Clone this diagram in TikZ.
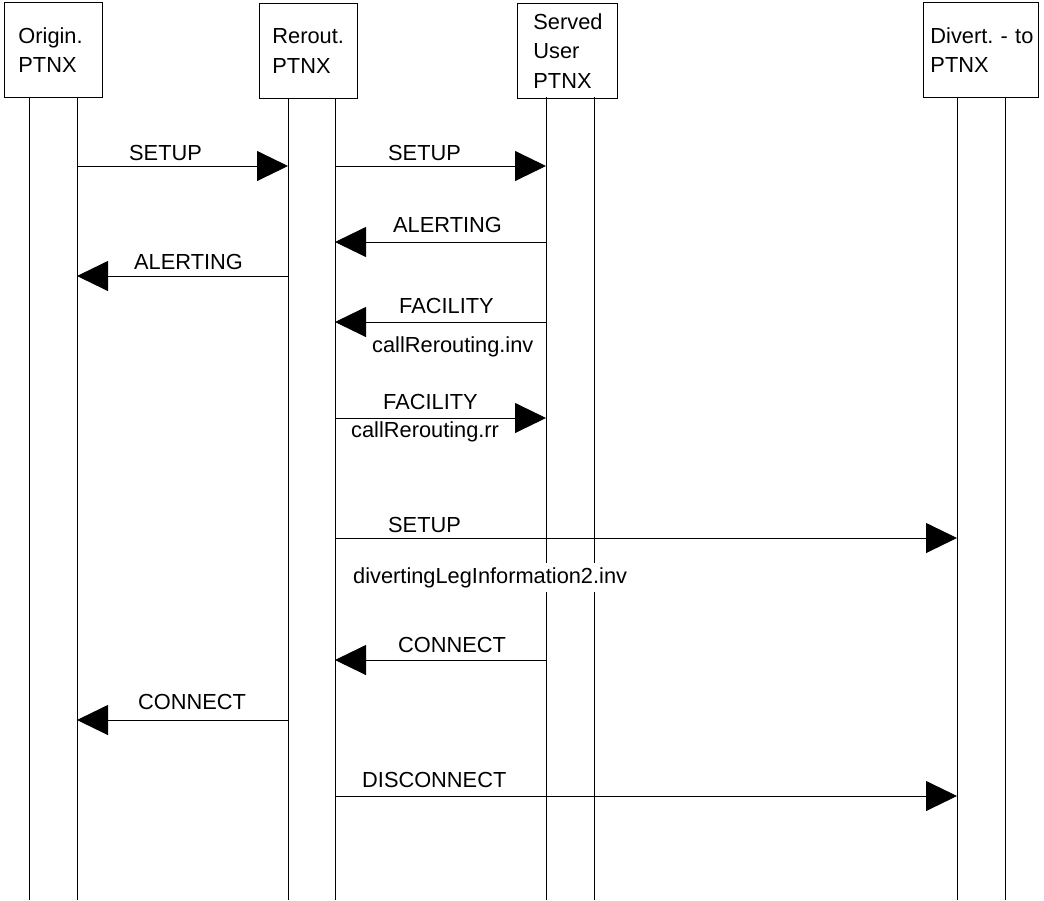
\documentclass[tikz,border=0pt]{standalone}
\usepackage{fontspec}
\setmainfont{Liberation Sans}
\usetikzlibrary{arrows.meta}
\frenchspacing

\begin{document}
\begin{tikzpicture}[x=1pt,y=-1pt,
  every node/.style={font=\fontsize{21.8pt}{29.5pt}\selectfont},
  box/.style={draw, line width=0.9pt, align=left, anchor=north west,
              inner ysep=0pt, minimum height=95pt},
  life/.style={line width=0.9pt},
  msg/.style={line width=0.9pt, -{Triangle[length=31pt,width=30pt]}},
  lbl/.style={anchor=base west, inner sep=0pt},
]
\useasboundingbox (0,0) rectangle (1044,900);

% participants
\node[box, inner xsep=14pt, text width=70pt] (orig) at (4,2)   {Origin.\\PTNX};
\node[box, inner xsep=13pt, text width=72pt] (rer)  at (259,3) {Rerout.\\PTNX};
\node[box, inner xsep=16pt, text width=68pt] (srv)  at (517,3) {Served\\User\\PTNX};
\node[box, inner xsep=7pt, text width=101pt] (div)  at (923,2) {\mbox{Divert.\ - to}\\PTNX};

% lifelines
\coordinate (bot) at (0,900);
\coordinate (oA) at (29,97);   \coordinate (oB) at (77,97);
\coordinate (rA) at (288,98);  \coordinate (rB) at (335,98);
\coordinate (sA) at (546,97);  \coordinate (sB) at (594,97);
\coordinate (dA) at (957,97);  \coordinate (dB) at (1005,97);
\foreach \c in {oA,oB,rA,rB,sA,sB,dA,dB}
  \draw[life] (\c) -- (\c |- bot);

% message rows
\coordinate (m1) at (0,166);
\coordinate (m2) at (0,242);
\coordinate (m3) at (0,276);
\coordinate (m4) at (0,322);
\coordinate (m5) at (0,418);
\coordinate (m6) at (0,538);
\coordinate (m7) at (0,660);
\coordinate (m8) at (0,720);
\coordinate (m9) at (0,796);

% messages
\draw[msg] (oB |- m1) -- (rA |- m1);
\draw[msg] (rB |- m1) -- (sA |- m1);
\draw[msg] (sA |- m2) -- (rB |- m2);
\draw[msg] (rA |- m3) -- (oB |- m3);
\draw[msg] (sA |- m4) -- (rB |- m4);
\draw[msg] (rB |- m5) -- (sA |- m5);
\draw[msg] (rB |- m6) -- (dA |- m6);
\draw[msg] (sA |- m7) -- (rB |- m7);
\draw[msg] (rA |- m8) -- (oB |- m8);
\draw[msg] (rB |- m9) -- (dA |- m9);

% labels
\node[lbl] (t1)  at (129,160) {SETUP};
\node[lbl] (t2)  at (388,160) {SETUP};
\node[lbl] (t3)  at (393,232) {ALERTING};
\node[lbl] (t4)  at (134,269) {ALERTING};
\node[lbl] (t5)  at (399,313) {FACILITY};
\node[lbl] (t5b) at (372,352) {callRerouting.inv};
\node[lbl] (t6)  at (383,409) {FACILITY};
\node[lbl] (t6b) at (351,437) {callRerouting.rr};
\node[lbl] (t7)  at (388,532) {SETUP};
\node[lbl, fill=white, inner xsep=2pt, inner ysep=4pt] (t7b) at (351,583) {divertingLegInformation2.inv};
\node[lbl] (t8)  at (398,652) {CONNECT};
\node[lbl] (t9)  at (138,709) {CONNECT};
\node[lbl] (t10) at (362,787) {DISCONNECT};
\end{tikzpicture}
\end{document}
